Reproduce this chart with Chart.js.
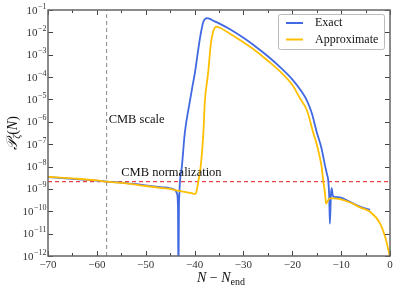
<!DOCTYPE html>
<html>
<head>
<meta charset="utf-8">
<script src="https://cdn.jsdelivr.net/npm/chart.js@4.4.1/dist/chart.umd.min.js"></script>
<style>
  body { margin: 0; background: #fff; }
  #wrap { width: 397px; height: 290px; }
</style>
</head>
<body>
<div id="wrap"><canvas id="powerChart"></canvas></div>
<script>
// N - N_end values and P_zeta(N)
const exactN = [-70, -65, -60, -58, -55, -50, -47, -45, -44, -43.6, -43.4, -43.3, -43.2, -43.1, -43.0,
  -42.6, -42.0, -41.1, -40.5, -39.9, -39.4, -38.9, -38.5, -38.2, -37.8, -37.5, -37.0, -36.0, -34.8,
  -32.75, -30, -28, -25, -22, -20, -18, -17, -16, -15.0, -14.0, -13.3, -12.9, -12.63, -12.45,
  -12.3, -12.1, -11.94, -11.7, -11.4, -10.24, -8, -6.15, -4.1];
const exactP = [3.4e-9, 2.8e-9, 2.35e-9, 2.1e-9, 1.9e-9, 1.45e-9, 1.2e-9, 1.07e-9, 8.9e-10, 6.3e-10,
  1.6e-10, 1e-13, 1.6e-10, 6.3e-10, 2.0e-9,
  1e-8, 3.2e-7, 5.6e-6, 3.2e-5, 1.7e-4, 1e-3, 5.4e-3, 1.6e-2, 3.0e-2, 4.0e-2, 4.3e-2, 4.1e-2, 3.2e-2, 2.4e-2,
  1.38e-2, 5.75e-3, 2.8e-3, 8.5e-4, 2.2e-4, 7.9e-5, 2.1e-5, 8.9e-6, 2.4e-6, 3.5e-7, 6.3e-8, 1.1e-8, 4.5e-9, 2.3e-9, 5e-10,
  2.8e-11, 5e-10, 1.07e-9, 5e-10, 4.4e-10, 4.2e-10, 2.5e-10, 1.6e-10, 1.15e-10];

const approxN = [-70, -65, -60, -58, -55, -50, -47, -45, -44, -42, -40.5, -39.9, -39.6, -39.3, -38.75,
  -38.2, -37.9, -37.2, -36.7, -36.2, -35.8, -35.5, -35.0, -34.8, -32.75, -30, -28, -25, -22, -20, -18.4,
  -17, -15.7, -15, -14.5, -14.0, -13.66, -13.3, -13.1, -12.9, -12.6, -12.3, -11.5, -10.24, -8, -6.15, -4.1,
  -2.05, -1.0, -0.35, -0.14, 0];
const approxP = [3.5e-9, 2.95e-9, 2.4e-9, 2.1e-9, 1.85e-9, 1.35e-9, 1.12e-9, 1.0e-9, 8.9e-10, 7.4e-10,
  6.3e-10, 5.9e-10, 7.9e-10, 1.8e-9, 1e-8,
  3.2e-7, 7.9e-6, 1.7e-4, 2.7e-3, 1.1e-2, 1.65e-2, 1.8e-2, 1.65e-2, 1.6e-2, 8.7e-3, 3.6e-3, 1.8e-3, 5.4e-4, 1.4e-4, 4.5e-5, 1.1e-5,
  3.2e-6, 3.2e-7, 1e-7, 3.5e-8, 1e-8, 2.3e-9, 6.3e-10, 2.2e-10, 2.5e-10, 3.3e-10, 3.8e-10, 3.8e-10, 3.5e-10, 2.4e-10, 1.5e-10, 9.5e-11,
  2.9e-11, 7.2e-12, 1.9e-12, 1.1e-12, 2.5e-13];

const cmbScaleN = -58;
const cmbNorm = 2.1e-9;

const xMajor = [-70, -60, -50, -40, -30, -20, -10, 0];
const xMinor = [-65, -55, -45, -35, -25, -15, -5];
const yTicks = [1e-12, 1e-11, 1e-10, 1e-9, 1e-8, 1e-7, 1e-6, 1e-5, 1e-4, 1e-3, 1e-2, 1e-1];

const serif = '"Liberation Serif", "DejaVu Serif", serif';
const toPoints = (xs, ys) => xs.map((v, i) => ({ x: v, y: ys[i] }));

// frame, inward ticks, log labels, legend and text drawn on top of the chart
const decor = {
    id: 'decor',
    afterDraw(chart) {
        const { ctx, chartArea: a, scales: { x, y } } = chart;
        ctx.save();
        ctx.strokeStyle = '#444';
        ctx.lineWidth = 1;
        const tick = (px, py, dx, dy) => {
            ctx.beginPath(); ctx.moveTo(px, py); ctx.lineTo(px + dx, py + dy); ctx.stroke();
        };
        xMajor.forEach(v => {
            const p = Math.round(x.getPixelForValue(v)) + 0.5;
            tick(p, a.bottom, 0, -5); tick(p, a.top, 0, 5);
        });
        xMinor.forEach(v => {
            const p = Math.round(x.getPixelForValue(v)) + 0.5;
            tick(p, a.bottom, 0, -3); tick(p, a.top, 0, 3);
        });
        yTicks.forEach(v => {
            const p = Math.round(y.getPixelForValue(v)) + 0.5;
            tick(a.left, p, 5, 0); tick(a.right, p, -5, 0);
        });
        ctx.strokeStyle = '#666';
        ctx.lineWidth = 1.5;
        ctx.strokeRect(a.left, a.top, a.right - a.left, a.bottom - a.top);

        // y tick labels 10^e
        ctx.fillStyle = '#333';
        ctx.textBaseline = 'alphabetic';
        ctx.textAlign = 'left';
        yTicks.forEach(v => {
            const p = y.getPixelForValue(v);
            const e = '\u2212' + Math.abs(Math.round(Math.log10(v)));
            ctx.font = '8px ' + serif;
            const we = ctx.measureText(e).width;
            ctx.font = '11px ' + serif;
            const wb = ctx.measureText('10').width;
            const x0 = a.left - 2 - we - wb;
            ctx.fillText('10', x0, p + 3.5);
            ctx.font = '8px ' + serif;
            ctx.fillText(e, x0 + wb + 0.5, p - 1.5);
        });

        // annotations
        ctx.fillStyle = '#111';
        ctx.font = '12.5px ' + serif;
        ctx.textBaseline = 'middle';
        ctx.fillText('CMB scale', x.getPixelForValue(cmbScaleN) + 2, y.getPixelForValue(1.2e-6));
        ctx.fillText('CMB normalization', x.getPixelForValue(-55), y.getPixelForValue(cmbNorm) - 9);

        // x axis title: N - N_end
        ctx.textBaseline = 'alphabetic';
        const parts = [['N', 'italic 14px '], [' \u2212 ', '14px '], ['N', 'italic 14px '], ['end', '10px ']];
        let total = 0;
        parts.forEach(p => { ctx.font = p[1] + serif; total += ctx.measureText(p[0]).width; });
        let cx = (a.left + a.right) / 2 + 2 - total / 2;
        parts.forEach((p, i) => {
            ctx.font = p[1] + serif;
            ctx.fillText(p[0], cx, i === 3 ? 285 : 282);
            cx += ctx.measureText(p[0]).width;
        });

        // y axis title: P_zeta(N)
        ctx.save();
        ctx.translate(17, 133);
        ctx.rotate(-Math.PI / 2);
        const yparts = [['\u{1D4AB}', 'italic 15px ', 0], ['\u03B6', 'italic 10px ', 3], ['(', '14px ', 0], ['N', 'italic 14px ', 0], [')', '14px ', 0]];
        let yt = 0;
        yparts.forEach(p => { ctx.font = p[1] + serif; yt += ctx.measureText(p[0]).width; });
        let yx = -yt / 2;
        yparts.forEach(p => {
            ctx.font = p[1] + serif;
            ctx.fillText(p[0], yx, p[2]);
            yx += ctx.measureText(p[0]).width;
        });
        ctx.restore();

        // legend
        const bx = a.right - 112, by = a.top + 4, bw = 106, bh = 35;
        ctx.fillStyle = '#fff';
        ctx.strokeStyle = '#bbb';
        ctx.lineWidth = 1;
        ctx.beginPath();
        ctx.roundRect(bx + 0.5, by + 0.5, bw, bh, 2);
        ctx.fill(); ctx.stroke();
        chart.data.datasets.slice(0, 2).forEach((ds, i) => {
            const ly = by + 9 + i * 16.5;
            ctx.strokeStyle = ds.borderColor;
            ctx.lineWidth = 2;
            ctx.beginPath(); ctx.moveTo(bx + 8, ly); ctx.lineTo(bx + 25, ly); ctx.stroke();
            ctx.fillStyle = '#111';
            ctx.font = '12px ' + serif;
            ctx.textBaseline = 'middle';
            ctx.fillText(ds.label, bx + 37, ly);
        });
        ctx.restore();
    }
};

const ctx = document.getElementById('powerChart').getContext('2d');
const powerChart = new Chart(ctx, {
    type: 'line',
    data: {
        datasets: [{
            label: 'Exact',
            data: toPoints(exactN, exactP),
            borderColor: '#4169e1',
            borderWidth: 1.8,
            pointRadius: 0,
            cubicInterpolationMode: 'monotone',
            order: 1
        }, {
            label: 'Approximate',
            data: toPoints(approxN, approxP),
            borderColor: '#ffbf00',
            borderWidth: 1.8,
            pointRadius: 0,
            cubicInterpolationMode: 'monotone',
            order: 0
        }, {
            label: 'CMB normalization',
            data: [{ x: -70, y: cmbNorm }, { x: 0, y: cmbNorm }],
            borderColor: '#e8141c',
            borderWidth: 1,
            borderDash: [4, 3],
            pointRadius: 0,
            order: 2
        }, {
            label: 'CMB scale',
            data: [{ x: cmbScaleN, y: 1e-12 }, { x: cmbScaleN, y: 1e-1 }],
            borderColor: '#888',
            borderWidth: 1,
            borderDash: [4, 3],
            pointRadius: 0,
            order: 3
        }]
    },
    options: {
        responsive: true,
        maintainAspectRatio: false,
        animation: false,
        layout: { padding: { top: 10, right: 7, left: 0, bottom: 0 } },
        plugins: { legend: { display: false }, tooltip: { enabled: false } },
        scales: {
            x: {
                type: 'linear',
                min: -70,
                max: 0,
                grid: { display: false, drawTicks: false },
                border: { display: false },
                afterBuildTicks: s => { s.ticks = xMajor.map(v => ({ value: v })); },
                afterFit: s => { s.height = 34; },
                ticks: {
                    padding: 3,
                    color: '#333',
                    font: { family: serif, size: 11 },
                    maxRotation: 0,
                    callback: v => v < 0 ? '\u2212' + Math.abs(v) : String(v)
                }
            },
            y: {
                type: 'logarithmic',
                min: 1e-12,
                max: 1e-1,
                grid: { display: false, drawTicks: false },
                border: { display: false },
                afterBuildTicks: s => { s.ticks = yTicks.map(v => ({ value: v })); },
                afterFit: s => { s.width = 48; },
                ticks: { display: false }
            }
        }
    },
    plugins: [decor]
});
</script>
</body>
</html>
